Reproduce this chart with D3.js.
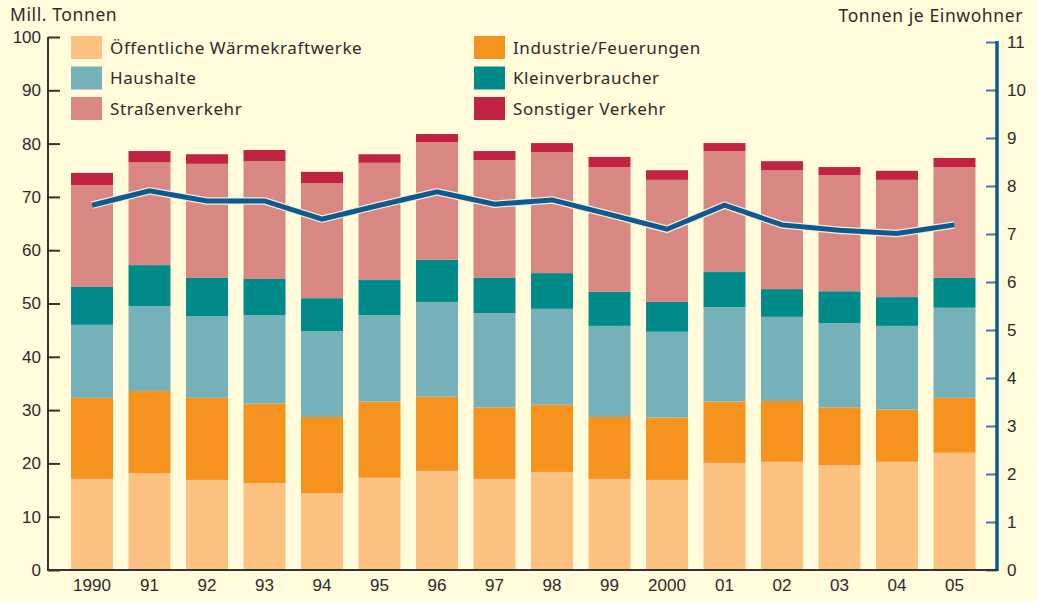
<!DOCTYPE html>
<html>
<head>
<meta charset="utf-8">
<script src="https://cdn.jsdelivr.net/npm/d3@7"></script>
<style>
    body { margin: 0; background: #fffbdb; }
    svg { display: block; font-family: 'Noto Sans', sans-serif; }
</style>
</head>
<body>
<svg id="chart" width="1037" height="601"></svg>
<script>
// years on the x axis (as printed)
const years = ['1990', '91', '92', '93', '94', '95', '96', '97', '98', '99', '2000', '01', '02', '03', '04', '05'];

// emission sources, bottom to top of each bar
const categories = ['Öffentliche Wärmekraftwerke', 'Industrie/Feuerungen', 'Haushalte', 'Kleinverbraucher', 'Straßenverkehr', 'Sonstiger Verkehr'];
const colors = ['#fdc281', '#f6921e', '#76b1b9', '#008b8a', '#d98783', '#c12443'];

// Mill. Tonnen per source and year
const waermekraftwerke = [17.1, 18.2, 16.9, 16.3, 14.4, 17.3, 18.6, 17.1, 18.4, 17.1, 16.9, 20.1, 20.3, 19.7, 20.3, 22.0];
const industrie = [15.2, 15.4, 15.4, 14.9, 14.3, 14.3, 13.9, 13.4, 12.6, 11.6, 11.7, 11.5, 11.4, 10.8, 9.8, 10.3];
const haushalte = [13.7, 15.9, 15.3, 16.6, 16.1, 16.2, 17.8, 17.7, 18.0, 17.1, 16.1, 17.7, 15.8, 15.8, 15.7, 16.9];
const kleinverbraucher = [7.1, 7.7, 7.2, 6.8, 6.2, 6.6, 7.9, 6.6, 6.7, 6.4, 5.6, 6.6, 5.2, 6.0, 5.4, 5.6];
const strassenverkehr = [19.1, 19.3, 21.4, 22.1, 21.6, 22.0, 22.1, 22.1, 22.7, 23.4, 22.9, 22.7, 22.3, 21.8, 22.0, 20.8];
const sonstigerVerkehr = [2.3, 2.1, 1.8, 2.1, 2.1, 1.6, 1.5, 1.7, 1.7, 1.9, 1.8, 1.5, 1.7, 1.5, 1.7, 1.7];

// Tonnen je Einwohner (right axis)
const proEinwohner = [7.60, 7.90, 7.69, 7.69, 7.31, 7.60, 7.88, 7.62, 7.71, 7.41, 7.10, 7.60, 7.19, 7.08, 7.01, 7.19];

// tick values of both axes
const leftTicks = [0, 10, 20, 30, 40, 50, 60, 70, 80, 90, 100];
const rightTicks = [0, 1, 2, 3, 4, 5, 6, 7, 8, 9, 10, 11];

class EmissionChart {
    constructor() {
        this.series = [waermekraftwerke, industrie, haushalte, kleinverbraucher, strassenverkehr, sonstigerVerkehr];
        this.svg = d3.select('#chart');
        this.left = 48;
        this.right = 997;
        this.bottom = 570;
        this.initScales();
        this.drawBars();
        this.drawAxes();
        this.drawLine();
        this.drawLegend();
    }

    // set up band scale for years and the two value scales
    initScales() {
        this.x = d3.scaleBand()
            .domain(years)
            .range([63.25, 983.25])
            .paddingInner(0.27)
            .paddingOuter(0.135);

        this.y = d3.scaleLinear().domain([0, 100]).range([this.bottom, 37]);
        this.y2 = d3.scaleLinear().domain([0, 11]).range([this.bottom, 42]);
    }

    // stacked bars from the category arrays
    drawBars() {
        const rows = years.map((yr, i) => {
            const row = { year: yr };
            categories.forEach((c, k) => row[c] = this.series[k][i]);
            return row;
        });
        const stacked = d3.stack().keys(categories)(rows);

        this.svg.append('g')
            .selectAll('g')
            .data(stacked)
            .join('g')
                .attr('fill', (d, k) => colors[k])
            .selectAll('rect')
            .data(d => d)
            .join('rect')
                .attr('x', d => this.x(d.data.year))
                .attr('width', this.x.bandwidth())
                .attr('y', d => this.y(d[1]))
                .attr('height', d => this.y(d[0]) - this.y(d[1]));
    }

    drawAxes() {
        const svg = this.svg;

        // left axis, ticks pointing into the plot
        const leftAxis = svg.append('g')
            .attr('transform', `translate(${this.left},0)`)
            .call(d3.axisLeft(this.y).tickValues(leftTicks).tickSize(-12).tickPadding(7));
        leftAxis.select('.domain').remove();
        leftAxis.selectAll('.tick line').attr('stroke', '#333').attr('stroke-width', 2);
        leftAxis.selectAll('text').attr('fill', '#2b2b2b').style('font-size', '17px');
        leftAxis.append('line')
            .attr('y1', this.y(100)).attr('y2', this.bottom)
            .attr('stroke', '#333').attr('stroke-width', 2);

        // right axis in blue
        const rightAxis = svg.append('g')
            .attr('transform', `translate(${this.right},0)`)
            .call(d3.axisRight(this.y2).tickValues(rightTicks).tickSize(-11).tickPadding(10));
        rightAxis.select('.domain').remove();
        rightAxis.selectAll('.tick line').attr('stroke', '#3b7db3').attr('stroke-width', 2);
        rightAxis.selectAll('text').attr('fill', '#2b2b2b').style('font-size', '17px');
        rightAxis.append('line')
            .attr('y1', this.y2(11) - 1).attr('y2', this.bottom + 1)
            .attr('stroke', '#0b5a91').attr('stroke-width', 3.5);

        // base line
        svg.append('line')
            .attr('x1', this.left - 1).attr('x2', this.right + 1)
            .attr('y1', this.bottom).attr('y2', this.bottom)
            .attr('stroke', '#333').attr('stroke-width', 2);

        // year labels
        const bottomAxis = svg.append('g')
            .attr('transform', `translate(0,${this.bottom})`)
            .call(d3.axisBottom(this.x).tickSize(0).tickPadding(9));
        bottomAxis.select('.domain').remove();
        bottomAxis.selectAll('text').attr('fill', '#2b2b2b').style('font-size', '17px');

        // axis titles
        svg.append('text')
            .attr('x', 10).attr('y', 21)
            .attr('fill', '#2b2b2b')
            .style('font-size', '17.5px')
            .style('letter-spacing', '0.6px')
            .text('Mill. Tonnen');

        svg.append('text')
            .attr('x', 1023).attr('y', 22)
            .attr('text-anchor', 'end')
            .attr('fill', '#2b2b2b')
            .style('font-size', '17.5px')
            .style('letter-spacing', '0.6px')
            .text('Tonnen je Einwohner');
    }

    // per capita line with a light halo
    drawLine() {
        const line = d3.line()
            .x((d, i) => this.x(years[i]) + this.x.bandwidth() / 2)
            .y(d => this.y2(d));

        this.svg.append('path')
            .datum(proEinwohner)
            .attr('d', line)
            .attr('fill', 'none')
            .attr('stroke', '#f8ecd6')
            .attr('stroke-width', 7.5);

        this.svg.append('path')
            .datum(proEinwohner)
            .attr('d', line)
            .attr('fill', 'none')
            .attr('stroke', '#0b5a91')
            .attr('stroke-width', 5);
    }

    drawLegend() {
        const item = this.svg.append('g')
            .selectAll('g')
            .data(categories)
            .join('g')
                .attr('transform', (d, i) => `translate(${i % 2 ? 474 : 71},${36 + Math.floor(i / 2) * 30.5})`);

        item.append('rect')
            .attr('width', 31)
            .attr('height', 23)
            .attr('fill', (d, i) => colors[i]);

        item.append('text')
            .attr('x', 39)
            .attr('y', 11.5)
            .attr('dy', '0.36em')
            .attr('fill', '#2b2b2b')
            .style('font-size', '17px')
            .style('letter-spacing', '0.6px')
            .text(d => d);
    }
}

new EmissionChart();
</script>
</body>
</html>
